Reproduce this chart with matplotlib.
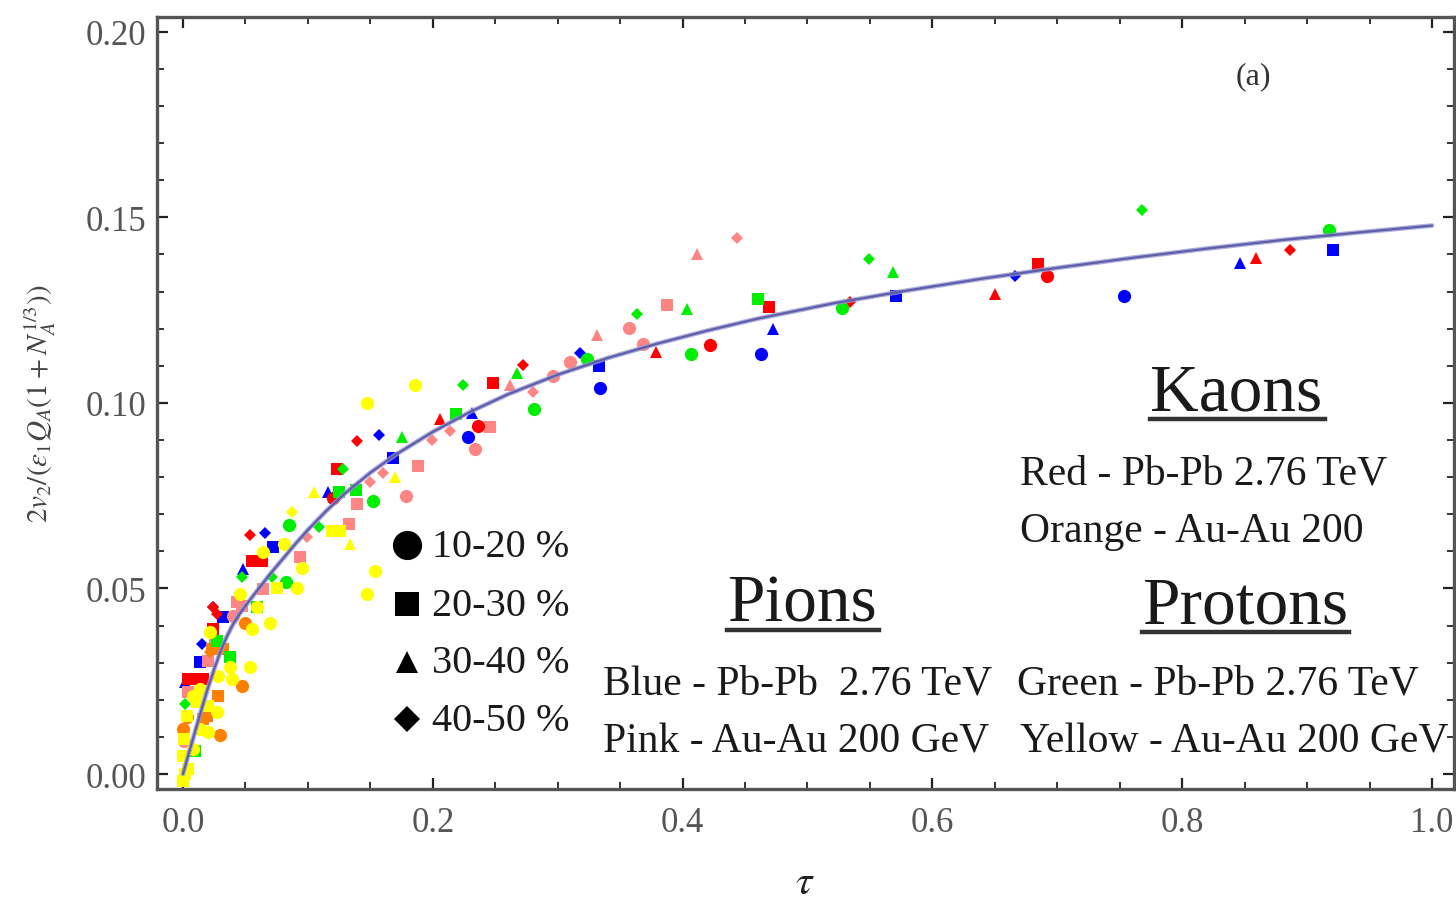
import matplotlib
matplotlib.use("Agg")
import matplotlib.pyplot as plt
from matplotlib.lines import Line2D
import numpy as np

plt.rcParams['font.family'] = ['Liberation Serif', 'DejaVu Serif']
plt.rcParams['mathtext.fontset'] = 'stix'

# ---------------- data ----------------
# centrality class codes: c = 10-20 %, s = 20-30 %, t = 30-40 %, d = 40-50 %
blue_tau = [0.921, 0.846, 0.753, 0.666, 0.571, 0.472, 0.463, 0.318, 0.333, 0.334, 0.231, 0.228,
            0.168, 0.157, 0.116, 0.066, 0.072, 0.048, 0.032, 0.024, 0.015, 0.014, 0.002]
blue_y = [0.1412, 0.1376, 0.1288, 0.1341, 0.1288, 0.120, 0.1132, 0.1135, 0.110, 0.104, 0.0972, 0.0908,
          0.0851, 0.0914, 0.0761, 0.0650, 0.0612, 0.0553, 0.0422, 0.0449, 0.035, 0.0301, 0.0247]
blue_cls = ['s', 't', 'c', 'd', 's', 't', 'c', 'd', 's', 'c', 't', 'c',
            's', 'd', 't', 'd', 's', 't', 's', 'd', 'd', 's', 't']

red_tau = [0.886, 0.859, 0.6845, 0.692, 0.650, 0.534, 0.469, 0.422, 0.379, 0.2725, 0.248, 0.206, 0.236,
           0.1396, 0.1235, 0.120, 0.0536, 0.055, 0.063, 0.024, 0.027, 0.024, 0.004, 0.011, 0.016]
red_y = [0.1412, 0.1391, 0.1375, 0.1341, 0.1294, 0.1273, 0.1258, 0.1157, 0.1137, 0.1102, 0.1054, 0.0957, 0.0939,
         0.0898, 0.0822, 0.0745, 0.0644, 0.0575, 0.0575, 0.0449, 0.0431, 0.039, 0.0256, 0.0256, 0.0256]
red_cls = ['d', 't', 's', 'c', 't', 'd', 's', 'c', 't', 'd', 's', 't', 'c',
           'd', 's', 'c', 'd', 's', 's', 'd', 'd', 's', 's', 's', 's']

pink_tau = [0.4434, 0.4113, 0.3875, 0.3568, 0.3682, 0.3315, 0.310, 0.296, 0.280, 0.262, 0.246, 0.234,
            0.214, 0.199, 0.188, 0.1785, 0.160, 0.150, 0.139, 0.133, 0.099, 0.094, 0.064, 0.047,
            0.040, 0.043, 0.026, 0.020, 0.004, 0.001]
pink_y = [0.1444, 0.1402, 0.1264, 0.1201, 0.1159, 0.1183, 0.111, 0.1073, 0.103, 0.1049, 0.0936, 0.0876,
          0.0925, 0.090, 0.083, 0.075, 0.0811, 0.0787, 0.0728, 0.0674, 0.0638, 0.0584, 0.0499, 0.0454,
          0.0427, 0.0463, 0.035, 0.0305, 0.022, 0.009]
pink_cls = ['d', 't', 's', 'c', 'c', 't', 'c', 'c', 'd', 't', 's', 'c',
            'd', 'd', 's', 'c', 'd', 'd', 's', 's', 'd', 's', 's', 's',
            'c', 's', 's', 's', 's', 'c']

orange_tau = [0.0496, 0.047, 0.0323, 0.023, 0.0283, 0.0296, 0.019, 0.016, 0.003, 0.000, 0.0216]
orange_y = [0.0408, 0.0238, 0.0337, 0.0337, 0.0211, 0.0105, 0.0157, 0.0148, 0.0153, 0.012, 0.0328]
orange_cls = ['c', 'c', 's', 's', 's', 'c', 's', 's', 'c', 'c', 'd']

green_tau = [0.9176, 0.768, 0.5684, 0.5494, 0.5275, 0.460, 0.4065, 0.4034, 0.3633, 0.3232, 0.2813, 0.2672,
             0.2244, 0.2183, 0.1751, 0.1524, 0.1385, 0.1279, 0.1251, 0.1091, 0.0851, 0.0825, 0.071,
             0.059, 0.047, 0.0376, 0.027, 0.0096, 0.0016]
green_y = [0.1467, 0.1521, 0.1352, 0.1388, 0.1255, 0.128, 0.1132, 0.1253, 0.124, 0.1119, 0.0984, 0.1081,
           0.1047, 0.097, 0.0907, 0.0737, 0.0766, 0.0822, 0.0761, 0.0665, 0.0671, 0.0518, 0.0532,
           0.0449, 0.0532, 0.0314, 0.0359, 0.0063, 0.0189]
green_cls = ['c', 'd', 't', 'd', 'c', 's', 'c', 't', 'd', 'c', 'c', 't',
             'd', 's', 't', 'c', 's', 'd', 's', 'd', 'c', 'c', 'd',
             's', 'd', 's', 's', 's', 'd']

yellow_tau = [0.1857, 0.1471, 0.1697, 0.1049, 0.087, 0.119, 0.1257, 0.1337, 0.0643, 0.0809, 0.095, 0.1537,
              0.1471, 0.075, 0.091, 0.0456, 0.059, 0.0697, 0.055, 0.0536, 0.0376, 0.039, 0.027, 0.0203,
              0.011, 0.003, 0.0005, 0.0003, 0.0016, 0.004, 0.008, 0.008, 0.0136, 0.0203, 0.0283, 0.0216,
              0.0136, 0.000]
yellow_y = [0.1047, 0.0999, 0.080, 0.0761, 0.0705, 0.0656, 0.0656, 0.062, 0.0598, 0.062, 0.0554, 0.0548,
            0.0485, 0.050, 0.050, 0.0485, 0.0449, 0.0408, 0.039, 0.0288, 0.0288, 0.0256, 0.0166, 0.0112,
            0.0193, 0.0157, 0.0094, 0.0049, 0.000, 0.0013, 0.0067, 0.0211, 0.0229, 0.0184, 0.0265, 0.0382,
            0.0121, -0.002]
yellow_cls = ['c', 'c', 't', 't', 'd', 's', 's', 't', 'c', 'c', 'c', 'c',
              'c', 's', 'c', 'c', 'c', 'c', 'c', 'c', 'c', 'c', 'c', 'c',
              's', 's', 's', 's', 's', 's', 'c', 'c', 'c', 's', 'c', 'c',
              'c', 's']

# universal curve
curve_tau = [0.000, 0.005, 0.010, 0.015, 0.020, 0.025, 0.030, 0.035, 0.040, 0.045, 0.050, 0.060,
             0.070, 0.080, 0.090, 0.100, 0.115, 0.130, 0.150, 0.170, 0.200, 0.230, 0.260, 0.300,
             0.340, 0.380, 0.420, 0.460, 0.520, 0.580, 0.640, 0.700, 0.760, 0.820, 0.880, 0.940, 1.000]
curve_y = [0.0000, 0.0060, 0.0118, 0.0176, 0.0232, 0.0283, 0.0330, 0.0370, 0.0403, 0.0430, 0.0453, 0.0497,
           0.0540, 0.0580, 0.0620, 0.0658, 0.0710, 0.0757, 0.0812, 0.0860, 0.0922, 0.0976, 0.1023, 0.1076,
           0.1121, 0.1160, 0.1195, 0.1227, 0.1268, 0.1303, 0.1335, 0.1364, 0.1391, 0.1416, 0.1439, 0.1459, 0.1478]

legend_labels = ['10-20 %', '20-30 %', '30-40 %', '40-50 %']
x_ticks = [0.0, 0.2, 0.4, 0.6, 0.8, 1.0]
y_ticks = [0.00, 0.05, 0.10, 0.15, 0.20]

# ---------------- styling ----------------
W, H = 1456, 904
fig = plt.figure(figsize=(W / 100, H / 100), dpi=100)
ax = fig.add_axes([157 / W, 1 - 790 / H, (1454 - 157) / W, (790 - 18) / H])

marker_of = {'c': 'o', 's': 's', 't': '^', 'd': 'D'}
size_of = {'c': 9.5, 's': 9, 't': 8, 'd': 6.5}

series = [
    (blue_tau, blue_y, blue_cls, '#0000ff'),
    (pink_tau, pink_y, pink_cls, '#ff8585'),
    (red_tau, red_y, red_cls, '#ff0000'),
    (orange_tau, orange_y, orange_cls, '#ff7f00'),
    (green_tau, green_y, green_cls, '#00ee00'),
    (yellow_tau, yellow_y, yellow_cls, '#ffff00'),
]
for tau, yv, cls, col in series:
    tau = np.asarray(tau); yv = np.asarray(yv); cls = np.asarray(cls)
    for k in ['c', 's', 't', 'd']:
        m = cls == k
        if m.any():
            ax.plot(tau[m], yv[m], linestyle='none', marker=marker_of[k],
                    markersize=size_of[k], color=col, markeredgewidth=0, zorder=3)

ax.plot(curve_tau, curve_y, color='#9a9ad2', lw=3.4, alpha=0.8, zorder=5, solid_capstyle='round')
ax.plot(curve_tau, curve_y, color='#5a5aa8', lw=1.6, alpha=0.95, zorder=6, solid_capstyle='round')

ax.set_xlim(-0.0208, 1.0176)
ax.set_ylim(-0.00404, 0.2040)
ax.set_xticks(x_ticks)
ax.set_xticklabels(['%.1f' % v for v in x_ticks])
ax.set_yticks(y_ticks)
ax.set_yticklabels(['%.2f' % v for v in y_ticks])
ax.set_xticks(np.arange(0, 1.0001, 0.05), minor=True)
ax.set_yticks(np.arange(0, 0.2001, 0.01), minor=True)
ax.tick_params(which='both', direction='in', top=True, right=True, color='#222')
ax.tick_params(which='major', length=8, width=1.6, labelsize=25, labelcolor='#555')
ax.tick_params(which='minor', length=5, width=1.3)
ax.tick_params(axis='y', pad=8)
ax.tick_params(axis='x', pad=12)
for sp in ax.spines.values():
    sp.set_color('#555')
    sp.set_linewidth(2.4)

def fx(x):
    return x / W

def fy(y):
    return 1 - y / H

txt_col = '#1a1a1a'
fig.text(fx(1253), fy(77), '(a)', fontsize=23, color='#333', ha='center', va='center')

# headings with underline
for label, x0, base, x1, uy in [('Kaons', 1150, 411, 1325, 420),
                                ('Pions', 727, 622, 879, 631),
                                ('Protons', 1142, 623, 1349, 633)]:
    fig.text(fx(x0), fy(base), label, fontsize=48.5, color=txt_col, ha='left', va='baseline')
    fig.add_artist(Line2D([fx(x0), fx(x1)], [fy(uy), fy(uy)], color='#333', lw=3.2))

for label, x0, base in [('Red - Pb-Pb 2.76 TeV', 1020, 485),
                        ('Orange - Au-Au 200', 1020, 542),
                        ('Blue - Pb-Pb  2.76 TeV', 603, 695),
                        ('Pink - Au-Au 200 GeV', 603, 753),
                        ('Green - Pb-Pb 2.76 TeV', 1017, 695),
                        ('Yellow - Au-Au 200 GeV', 1020, 753)]:
    fig.text(fx(x0), fy(base), label, fontsize=30, color=txt_col, ha='left', va='baseline')

# centrality legend (black markers)
leg_marker_y = [546, 605, 663, 720]
leg_base_y = [557, 616, 673, 731]
leg_ms = [21, 17, 16, 13]
for lab, k, my, by, ms in zip(legend_labels, ['c', 's', 't', 'd'], leg_marker_y, leg_base_y, leg_ms):
    fig.add_artist(Line2D([fx(407)], [fy(my)], marker=marker_of[k], markersize=ms,
                          color='black', linestyle='none', markeredgewidth=0))
    fig.text(fx(432), fy(by), lab, fontsize=29, color=txt_col, ha='left', va='baseline')

# axis labels
fig.text(fx(805), fy(884), r'$\tau$', fontsize=30, color='#222', ha='center', va='center')
fig.text(fx(40), fy(404), r'$2v_2/(\epsilon_1 Q_A(1+N_A^{1/3}))$', fontsize=21, color='#444',
         rotation=90, ha='center', va='center')

fig.savefig('out.png', dpi=100)
